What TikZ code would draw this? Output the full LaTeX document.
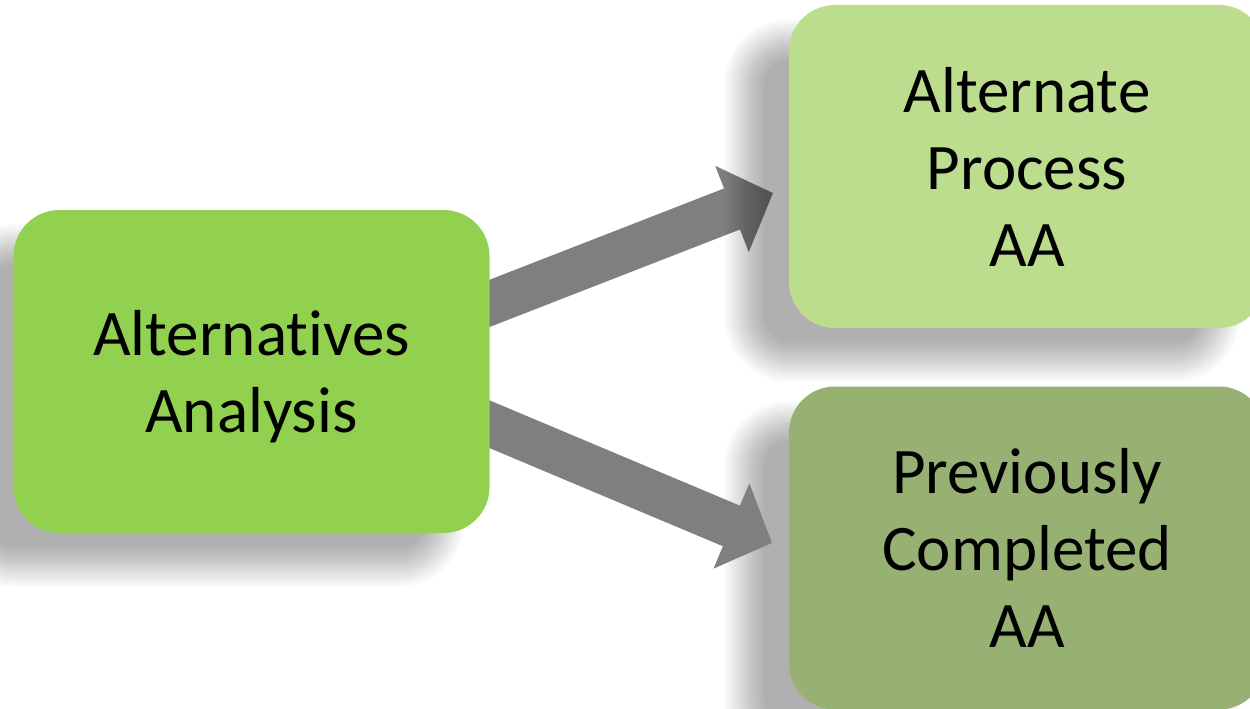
\documentclass[tikz,border=0pt]{standalone}
\usepackage{fontspec}
\setmainfont{Carlito}[Ligatures={NoCommon,NoRequired,NoContextual},RawFeature={-liga;-dlig;-calt}]
\usetikzlibrary{arrows.meta}
\definecolor{mainGreen}{HTML}{92D050}
\definecolor{lightGreen}{HTML}{BDDD8E}
\definecolor{oliveGreen}{HTML}{97B172}
\definecolor{arrowGray}{HTML}{7F7F7F}
\tikzset{
  box/.style={rounded corners=46pt, minimum width=476pt, minimum height=323pt,
    inner sep=0pt, align=center, font=\fontsize{65}{77}\selectfont},
  bigarrow/.style={draw=arrowGray, line width=44pt, -{Triangle[length=44pt,width=90pt]}}
}
% soft shadow: #1,#2 = box centre (px, y downwards)
\newcommand\softshadow[2]{%
  \foreach \e in {20,17.5,...,-20}{%
    \pgfmathsetmacro\rr{max(46+\e,2)}%
    \fill[black, fill opacity=0.0192, rounded corners=\rr pt]
      ({#1-45-238-\e},{#2+34-161.5-\e}) rectangle ({#1-45+238+\e},{#2+34+161.5+\e});
  }%
}
\begin{document}
\begin{tikzpicture}[x=1pt,y=-1pt]
\clip (0,0) rectangle (1250,709);
\fill[white] (0,0) rectangle (1250,709);
% upper arrow (under top-right box shadow)
\coordinate (s1) at (470,311);
\coordinate (t1) at (773,193);
\draw[bigarrow] (s1) -- (t1);
\softshadow{1027}{166.5}
\node[box, fill=lightGreen] (ap) at (1027,166.5) {Alternate\\Process\\AA};
\softshadow{1027}{548}
\node[box, fill=oliveGreen] (pc) at (1027,548) {Previously\\Completed\\AA};
% lower arrow
\coordinate (s2) at (470,416);
\coordinate (t2) at (772,543);
\draw[bigarrow] (s2) -- (t2);
\softshadow{251.5}{371.5}
\node[box, fill=mainGreen, text depth=0pt] (aa) at (251.5,371.5) {Alternat\kern0pt ives\\Analysis};
\end{tikzpicture}
\end{document}
